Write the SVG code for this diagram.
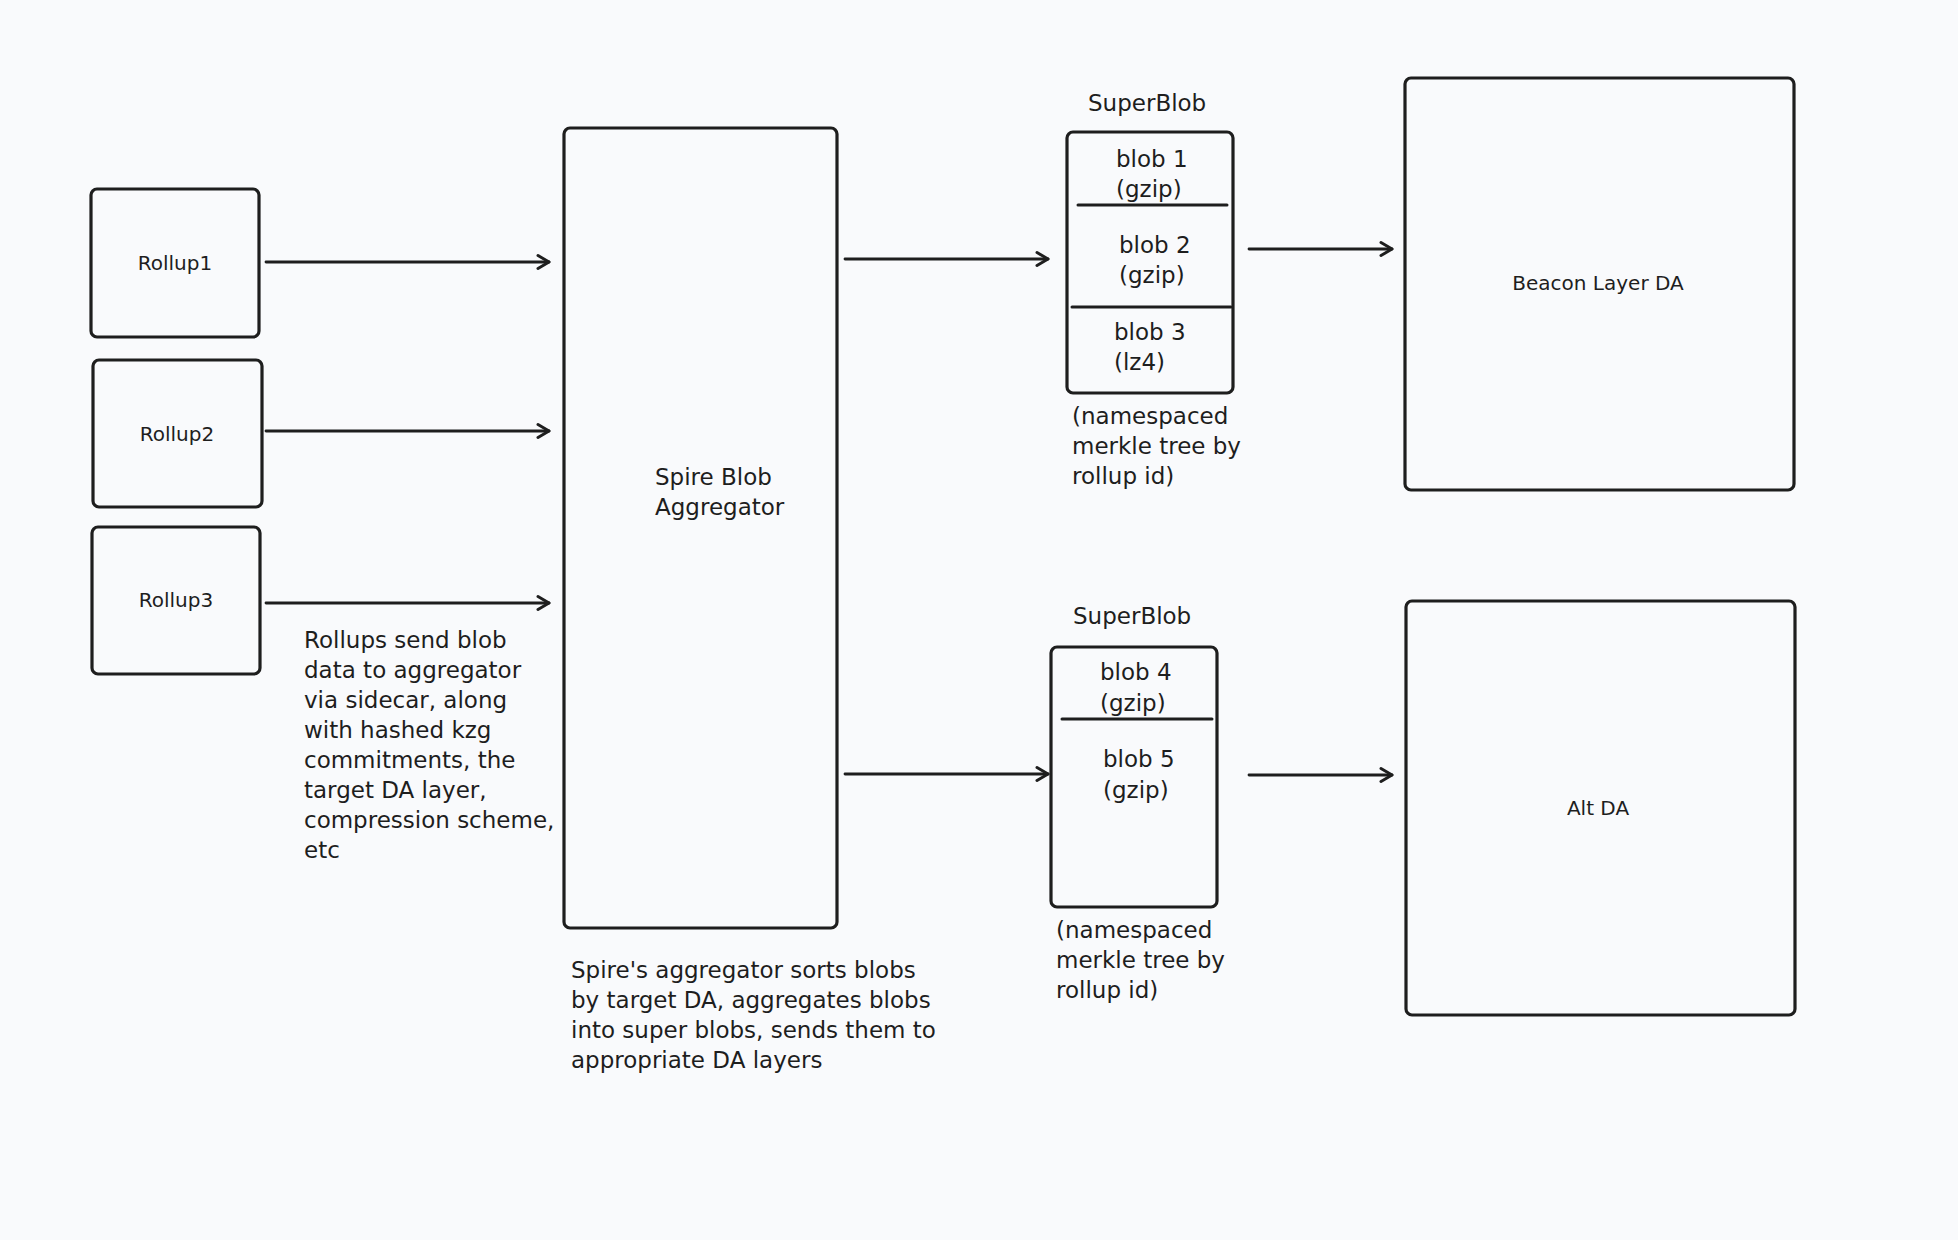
<svg xmlns="http://www.w3.org/2000/svg" width="1958" height="1240" viewBox="0 0 1958 1240">
<style>
.box{fill:none;stroke:#1e1e1e;stroke-width:3.2}
.div{fill:none;stroke:#1e1e1e;stroke-width:3;stroke-linecap:round}
.conn{fill:none;stroke:#1e1e1e;stroke-width:2.8;stroke-linecap:round}
.lbl{font-family:"DejaVu Sans",sans-serif;font-size:20px;fill:#1e1e1e}
.txt{font-family:"DejaVu Sans",sans-serif;font-size:23px;fill:#1e1e1e}
.c{text-anchor:middle}
</style>
<defs>
<marker id="ah" markerUnits="userSpaceOnUse" viewBox="-14 -9 16 18" refX="0" refY="0" markerWidth="16" markerHeight="18" orient="auto">
<path d="M -11 -6.5 L 0 0 L -11 6.5" fill="none" stroke="#1e1e1e" stroke-width="3" stroke-linecap="round" stroke-linejoin="round"/>
</marker>
</defs>
<rect x="0" y="0" width="1958" height="1240" fill="#f9fafc"/>

<g id="rollup1">
<rect class="box" x="91" y="189" width="168" height="148" rx="6"/>
<text class="lbl c" x="175" y="270">Rollup1</text>
</g>
<g id="rollup2">
<rect class="box" x="93" y="360" width="169" height="147" rx="6"/>
<text class="lbl c" x="177" y="441">Rollup2</text>
</g>
<g id="rollup3">
<rect class="box" x="92" y="527" width="168" height="147" rx="6"/>
<text class="lbl c" x="176" y="607">Rollup3</text>
</g>

<g id="rollups-note">
<text class="txt" x="304" y="648">Rollups send blob</text>
<text class="txt" x="304" y="678">data to aggregator</text>
<text class="txt" x="304" y="708">via sidecar, along</text>
<text class="txt" x="304" y="738">with hashed kzg</text>
<text class="txt" x="304" y="768">commitments, the</text>
<text class="txt" x="304" y="798">target DA layer,</text>
<text class="txt" x="304" y="828">compression scheme,</text>
<text class="txt" x="304" y="858">etc</text>
</g>

<g id="aggregator">
<rect class="box" x="564" y="128" width="273" height="800" rx="6"/>
<text class="txt" x="655" y="485">Spire Blob</text>
<text class="txt" x="655" y="515">Aggregator</text>
</g>

<g id="aggregator-note">
<text class="txt" x="571" y="978">Spire's aggregator sorts blobs</text>
<text class="txt" x="571" y="1008">by target DA, aggregates blobs</text>
<text class="txt" x="571" y="1038">into super blobs, sends them to</text>
<text class="txt" x="571" y="1068">appropriate DA layers</text>
</g>

<g id="superblob1">
<text class="txt" x="1088" y="111">SuperBlob</text>
<rect class="box" x="1067" y="132" width="166" height="261" rx="6"/>
<line class="div" x1="1078" y1="205" x2="1227" y2="205"/>
<line class="div" x1="1072" y1="307" x2="1231" y2="307"/>
<text class="txt" x="1116" y="167">blob 1</text>
<text class="txt" x="1116" y="197">(gzip)</text>
<text class="txt" x="1119" y="253">blob 2</text>
<text class="txt" x="1119" y="283">(gzip)</text>
<text class="txt" x="1114" y="340">blob 3</text>
<text class="txt" x="1114" y="370">(lz4)</text>
<text class="txt" x="1072" y="424">(namespaced</text>
<text class="txt" x="1072" y="454">merkle tree by</text>
<text class="txt" x="1072" y="484">rollup id)</text>
</g>

<g id="superblob2">
<text class="txt" x="1073" y="624">SuperBlob</text>
<rect class="box" x="1051" y="647" width="166" height="260" rx="6"/>
<line class="div" x1="1062" y1="719" x2="1212" y2="719"/>
<text class="txt" x="1100" y="680">blob 4</text>
<text class="txt" x="1100" y="711">(gzip)</text>
<text class="txt" x="1103" y="767">blob 5</text>
<text class="txt" x="1103" y="798">(gzip)</text>
<text class="txt" x="1056" y="938">(namespaced</text>
<text class="txt" x="1056" y="968">merkle tree by</text>
<text class="txt" x="1056" y="998">rollup id)</text>
</g>

<g id="beacon-da">
<rect class="box" x="1405" y="78" width="389" height="412" rx="6"/>
<text class="lbl c" x="1598" y="290">Beacon Layer DA</text>
</g>

<g id="alt-da">
<rect class="box" x="1406" y="601" width="389" height="414" rx="6"/>
<text class="lbl c" x="1598" y="815">Alt DA</text>
</g>

<g id="connectors">
<line class="conn" x1="266" y1="262" x2="549" y2="262" marker-end="url(#ah)"/>
<line class="conn" x1="266" y1="431" x2="549" y2="431" marker-end="url(#ah)"/>
<line class="conn" x1="266" y1="603" x2="549" y2="603" marker-end="url(#ah)"/>
<line class="conn" x1="845" y1="259" x2="1048" y2="259" marker-end="url(#ah)"/>
<line class="conn" x1="845" y1="774" x2="1048" y2="774" marker-end="url(#ah)"/>
<line class="conn" x1="1249" y1="249" x2="1392" y2="249" marker-end="url(#ah)"/>
<line class="conn" x1="1249" y1="775" x2="1392" y2="775" marker-end="url(#ah)"/>
</g>
</svg>
